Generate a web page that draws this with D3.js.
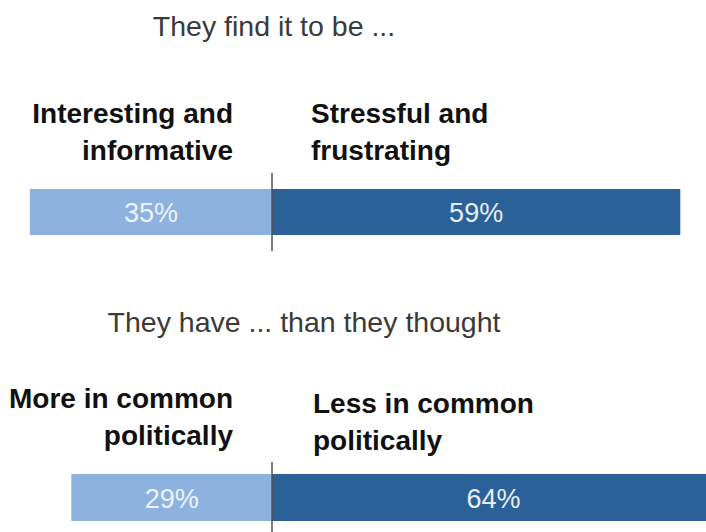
<!DOCTYPE html>
<html><head><meta charset="utf-8">
<script src="https://cdn.jsdelivr.net/npm/d3@7"></script>
<style>
html,body{margin:0;padding:0;background:#fff;overflow:hidden;}
svg{display:block;}
</style></head>
<body>
<svg id="chart" width="706" height="532"></svg>
<script>
const titles = ["They find it to be ...", "They have ... than they thought"];
const leftLabels = [["Interesting and", "informative"], ["More in common", "politically"]];
const rightLabels = [["Stressful and", "frustrating"], ["Less in common", "politically"]];
const leftValues = [35, 29];
const rightValues = [59, 64];

const W = 706, H = 532;
const svg = d3.select("#chart");
const x = d3.scaleLinear().domain([0, 100]).range([272, 272 + 692]);
const font = "'Liberation Sans',Arial,Helvetica,sans-serif";

const groups = [
  {titleX: 274, titleY: 36, leftY: [123, 160], rightY: [123, 160], barY: 189, barH: 46, lineY0: 173, lineY1: 251, leftLabelX: 233, rightLabelX: 311},
  {titleX: 304, titleY: 332, leftY: [408, 445], rightY: [413, 450], barY: 474, barH: 47, lineY0: 462, lineY1: 532, leftLabelX: 233, rightLabelX: 313}
];

groups.forEach((g, i) => {
  const gg = svg.append("g");
  gg.append("text").attr("x", g.titleX).attr("y", g.titleY)
    .attr("text-anchor", "middle").attr("font-family", font).attr("font-size", 28.5)
    .attr("fill", "#3a3a3a").text(titles[i]);
  leftLabels[i].forEach((t, j) => {
    gg.append("text").attr("x", g.leftLabelX).attr("y", g.leftY[j])
      .attr("text-anchor", "end").attr("font-family", font).attr("font-weight", "bold")
      .attr("font-size", 28).attr("fill", "#111").text(t);
  });
  rightLabels[i].forEach((t, j) => {
    gg.append("text").attr("x", g.rightLabelX).attr("y", g.rightY[j])
      .attr("text-anchor", "start").attr("font-family", font).attr("font-weight", "bold")
      .attr("font-size", 28).attr("fill", "#111").text(t);
  });
  gg.append("rect").attr("x", x(-leftValues[i])).attr("y", g.barY)
    .attr("width", x(0) - x(-leftValues[i])).attr("height", g.barH).attr("fill", "#8db2e0");
  gg.append("rect").attr("x", x(0)).attr("y", g.barY)
    .attr("width", x(rightValues[i]) - x(0)).attr("height", g.barH).attr("fill", "#2a6199");
  gg.append("text").attr("x", (x(-leftValues[i]) + x(0)) / 2).attr("y", g.barY + g.barH / 2 + 10)
    .attr("text-anchor", "middle").attr("font-family", font).attr("font-size", 27)
    .attr("fill", "#eef3fa").text(leftValues[i] + "%");
  gg.append("text").attr("x", (x(0) + x(rightValues[i])) / 2).attr("y", g.barY + g.barH / 2 + 10)
    .attr("text-anchor", "middle").attr("font-family", font).attr("font-size", 27)
    .attr("fill", "#e6edf6").text(rightValues[i] + "%");
  gg.append("line").attr("x1", x(0)).attr("x2", x(0)).attr("y1", g.lineY0).attr("y2", g.lineY1)
    .attr("stroke", "#555").attr("stroke-width", 1.5);
});
</script>
</body></html>
